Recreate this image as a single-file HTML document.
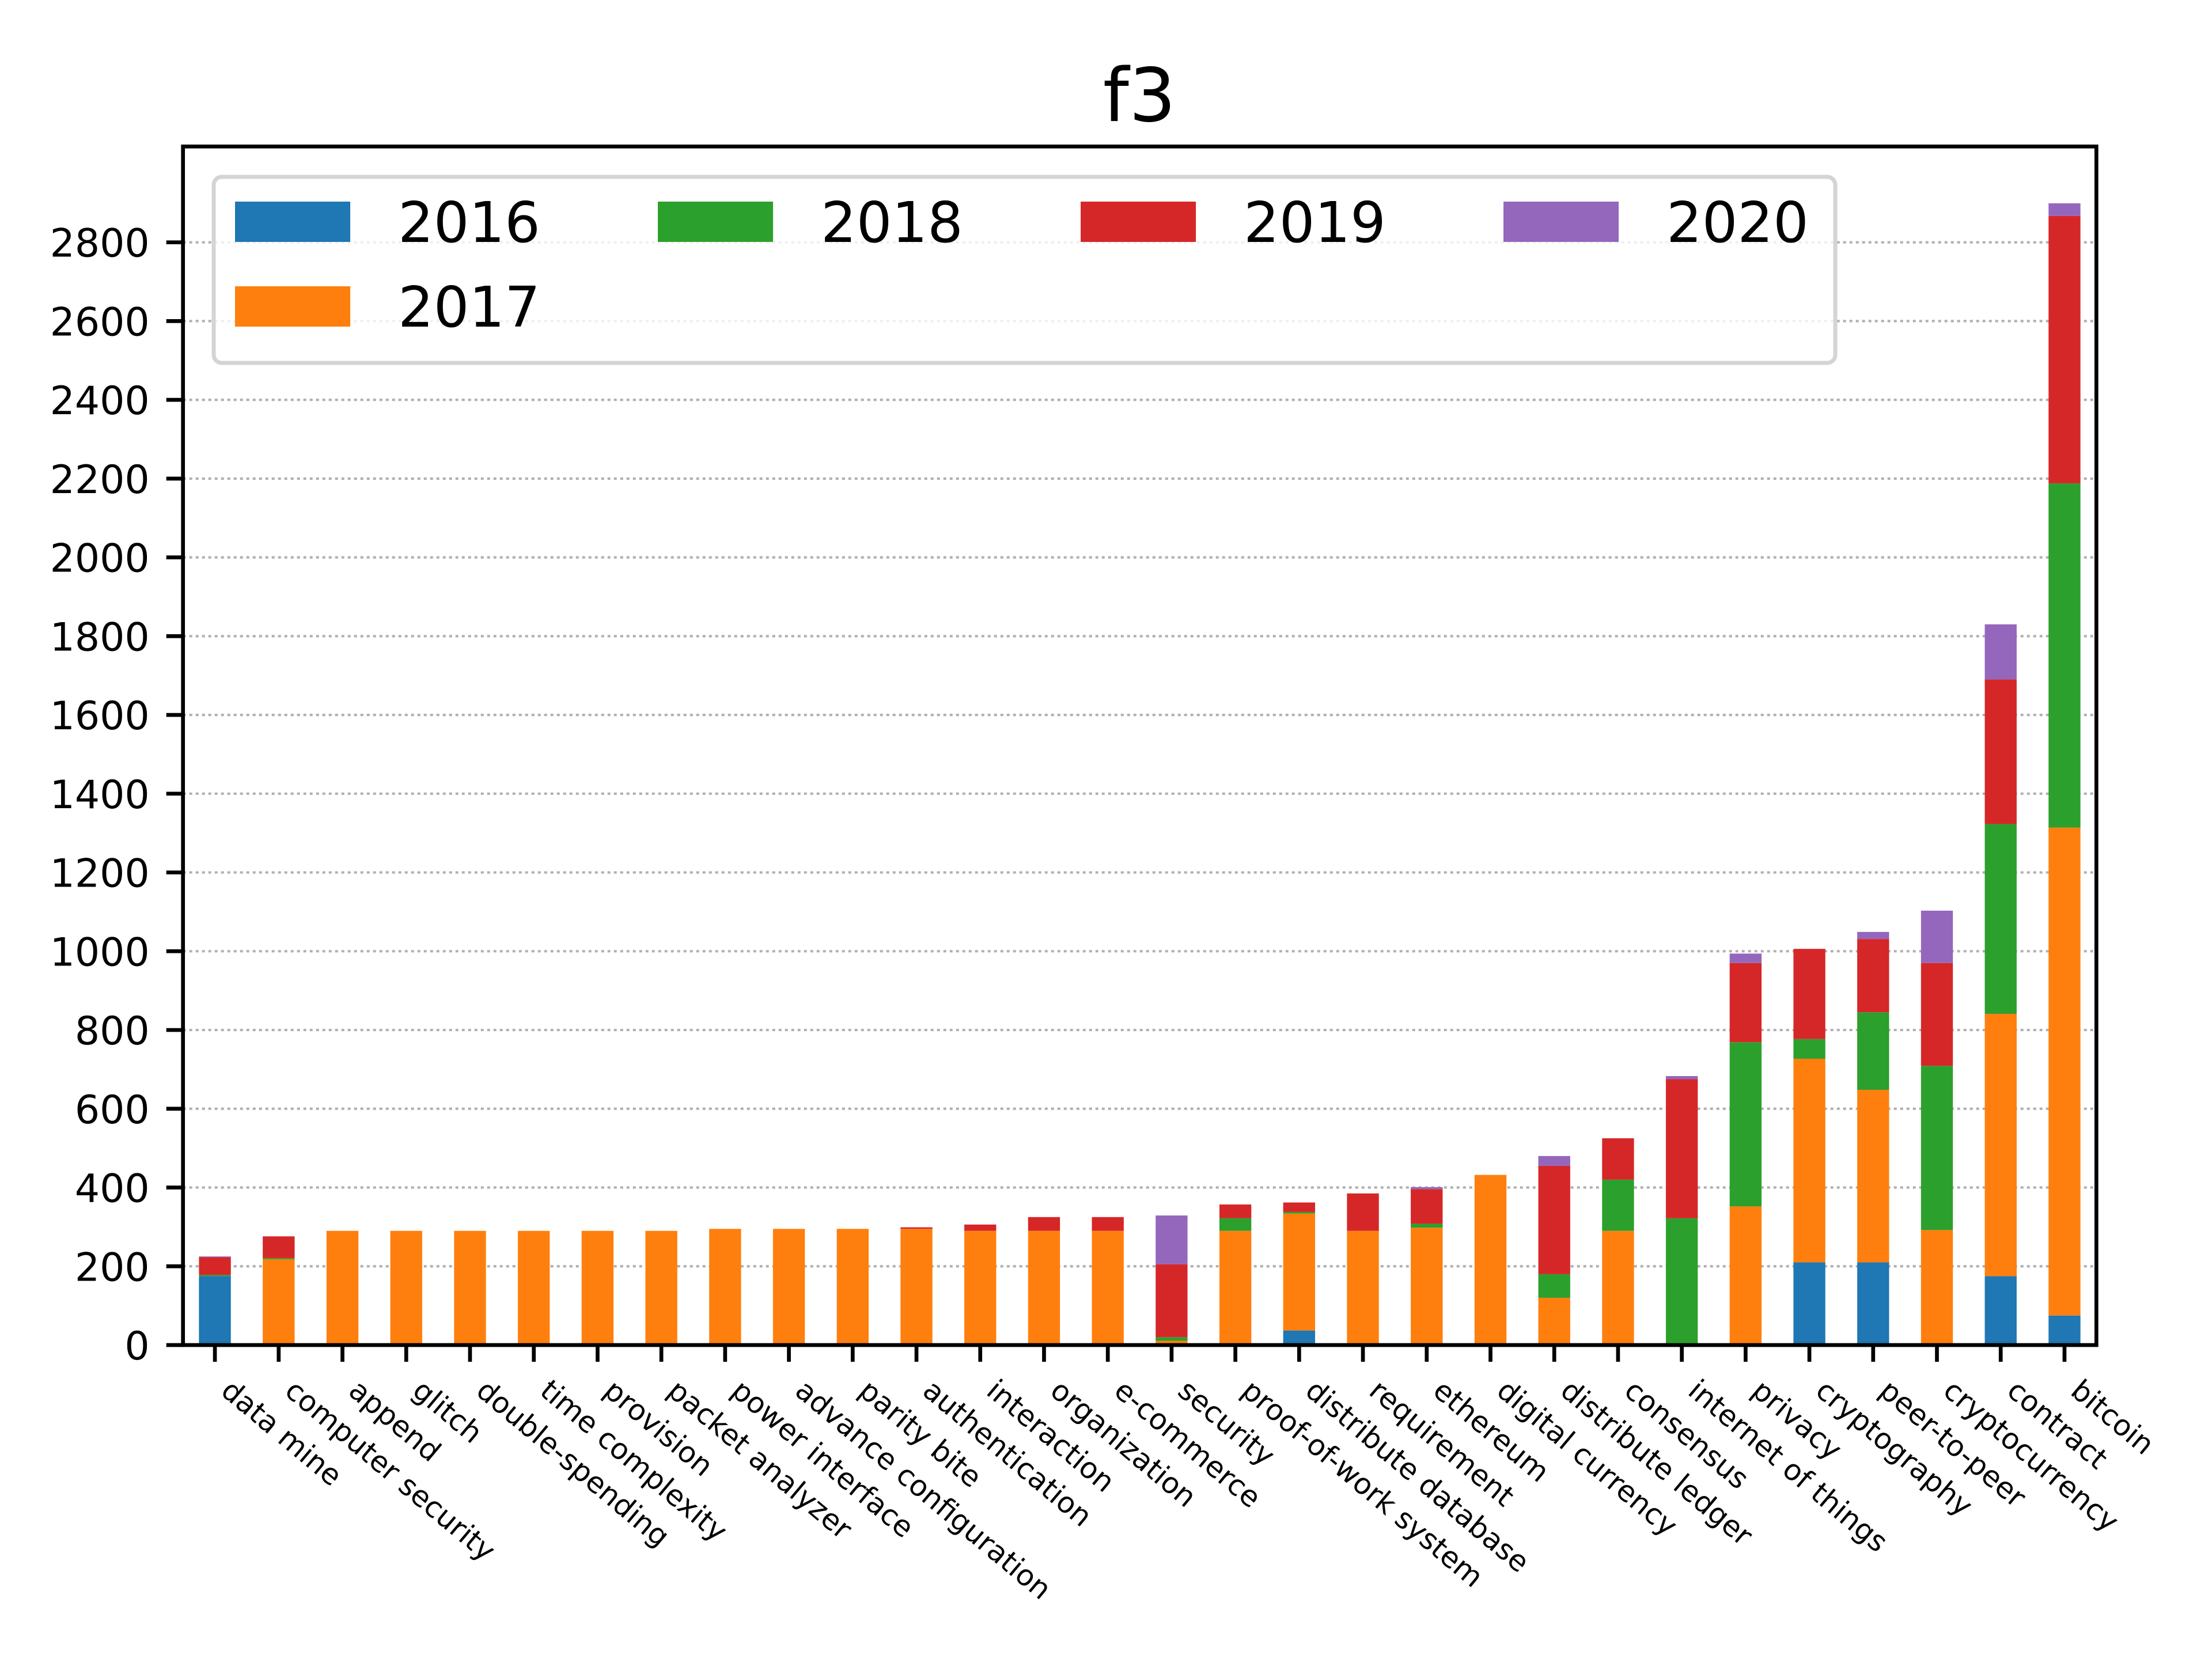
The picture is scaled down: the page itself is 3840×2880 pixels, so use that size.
<!DOCTYPE html>
<html><head><meta charset="utf-8"><style>
html,body{margin:0;padding:0;background:#fff;}
svg{display:block;font-family:"DejaVu Sans","Liberation Sans",sans-serif;}
</style></head><body>
<svg id="chart" xmlns="http://www.w3.org/2000/svg" width="3840" height="2880" viewBox="0 0 3840 2880">
<rect width="3840" height="2880" fill="#fff"/>
<text x="1978" y="210" font-size="128" text-anchor="middle" fill="#000">f3</text>
<g id="grid"></g>
<g id="bars"></g>
<g id="axes"></g>
<g id="legend"></g>
</svg>
<script>
const categories = ["data mine","computer security","append","glitch","double-spending","time complexity","provision","packet analyzer","power interface","advance configuration","parity bite","authentication","interaction","organization","e-commerce","security","proof-of-work system","distribute database","requirement","ethereum","digital currency","distribute ledger","consensus","internet of things","privacy","cryptography","peer-to-peer","cryptocurrency","contract","bitcoin"];
const seriesNames = ["2016","2017","2018","2019","2020"];
const v2016 = [175,0,0,0,0,0,0,0,0,0,0,0,0,0,0,0,0,37,0,0,0,0,0,0,0,210,210,0,175,75];
const v2017 = [0,218,290,290,290,290,290,290,295,295,295,295,290,290,290,11,290,297,290,298,432,120,290,2,352,517,438,292,666,1239];
const v2018 = [3,3,0,0,0,0,0,0,0,0,0,0,0,0,0,9,32,4,0,10,0,60,130,320,417,50,197,417,482,874];
const v2019 = [45,55,0,0,0,0,0,0,0,0,0,4,16,35,35,185,35,24,95,88,0,275,105,353,201,229,186,261,367,679];
const v2020 = [2,0,0,0,0,0,0,0,0,0,0,0,0,0,0,124,0,0,0,5,0,25,0,8,24,0,18,133,140,32];
const yTicks = [0,200,400,600,800,1000,1200,1400,1600,1800,2000,2200,2400,2600,2800];
const colors = ["#1f77b4","#ff7f0e","#2ca02c","#d62728","#9467bd"];
const NS = "http://www.w3.org/2000/svg";
const L = 317.7, R = 3639.3, T = 254.3, B = 2335;
const yMax = (B - T) / 0.68369;
const n = categories.length;
const step = (R - L) / n;
function xScale(i){ return L + (i + 0.5) * step; }
function yScale(v){ return B - (v / yMax) * (B - T); }
function mk(tag, attrs, parent){ const e = document.createElementNS(NS, tag); for (const k in attrs) e.setAttribute(k, attrs[k]); parent.appendChild(e); return e; }
const grid = document.getElementById('grid'), bars = document.getElementById('bars'), axes = document.getElementById('axes'), legend = document.getElementById('legend');
yTicks.forEach(t => {
  const y = yScale(t);
  if (t > 0) {
    const g = mk('line', {x1:L, x2:R, y1:y, y2:y, stroke:'#b0b0b0', 'stroke-width':4.2, 'stroke-dasharray':'5 6'}, grid);
    
    
  }
  const tk = mk('line', {x1:L-29, x2:L, y1:y, y2:y, stroke:'#000', 'stroke-width':6.7}, axes);
  
  
  const lb = mk('text', {x:L-58, y:y+25, 'font-size':68, 'text-anchor':'end', fill:'#000'}, axes);
  lb.textContent = t;
  
  
});
const series = [v2016, v2017, v2018, v2019, v2020];
const bw = step * 0.5;
categories.forEach((c, i) => {
  let base = 0;
  const cx = xScale(i);
  series.forEach((s, k) => {
    const v = s[i];
    if (v > 0) {
      const r = mk('rect', {x:cx - bw/2, y:yScale(base + v), width:bw, height:yScale(base) - yScale(base + v), fill:colors[k]}, bars);
      
      
    }
    base += v;
  });
  const tk = mk('line', {x1:cx, x2:cx, y1:B, y2:B+29, stroke:'#000', 'stroke-width':6.7}, axes);
  
  
  const ax = cx + 8, ay = B + 84;
  const lb = mk('text', {x:ax, y:ay, 'font-size':50, fill:'#000', transform:'rotate(40 ' + ax + ' ' + ay + ')'}, axes);
  lb.textContent = c;
  
  
});
const frame = mk('rect', {x:L, y:T, width:R-L, height:B-T, fill:'none', stroke:'#000', 'stroke-width':6.7}, axes);


const box = mk('rect', {x:371, y:307, width:2815, height:323, rx:14, fill:'#fff', 'fill-opacity':0.8, stroke:'#d4d4d4', 'stroke-width':7}, legend);


const pos = [[408,350],[408,497],[1142,350],[1876,350],[2610,350]];
seriesNames.forEach((nm, k) => {
  const p = pos[k];
  const sw = mk('rect', {x:p[0], y:p[1], width:200, height:70, fill:colors[k]}, legend);
  
  
  const tx = mk('text', {x:p[0]+283, y:p[1]+70, 'font-size':97, fill:'#000'}, legend);
  tx.textContent = nm;
  
  
});
</script>
</body></html>
